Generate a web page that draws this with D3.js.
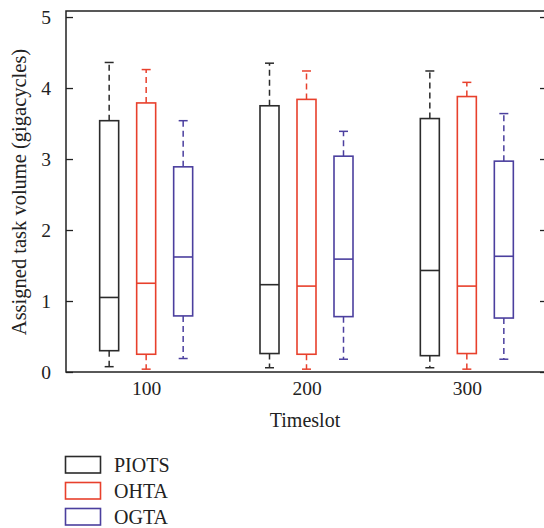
<!DOCTYPE html>
<html>
<head>
<meta charset="utf-8">
<script src="https://cdn.jsdelivr.net/npm/d3@7/dist/d3.min.js"></script>
<style>
  html, body { margin: 0; padding: 0; background: #fff; }
  svg { display: block; }
  text { font-family: "Liberation Serif", "DejaVu Serif", serif; fill: #222; }
</style>
</head>
<body>
<div id="chart"></div>
<script>
// ---- data ----
const timeslots = [100, 200, 300];
const series = ["PIOTS", "OHTA", "OGTA"];
const seriesColors = ["#2b2b2b", "#e8402c", "#4b3f9e"];
// each entry: [whiskerLow, q1, median, q3, whiskerHigh] per timeslot
const piots = [
  [0.075, 0.30, 1.05, 3.54, 4.36],
  [0.06, 0.26, 1.23, 3.75, 4.35],
  [0.06, 0.23, 1.43, 3.57, 4.24]
];
const ohta = [
  [0.04, 0.25, 1.25, 3.79, 4.26],
  [0.04, 0.25, 1.21, 3.84, 4.24],
  [0.04, 0.26, 1.21, 3.88, 4.08]
];
const ogta = [
  [0.19, 0.79, 1.62, 2.89, 3.54],
  [0.18, 0.78, 1.59, 3.04, 3.39],
  [0.18, 0.76, 1.63, 2.97, 3.64]
];
const yTicks = [0, 1, 2, 3, 4, 5];
const seriesData = [piots, ohta, ogta];

// ---- layout ----
const W = 544, H = 528;
const mLeft = 66, mRight = 547, mTop = 11, mBottom = 372;
const svg = d3.select("#chart").append("svg").attr("width", W).attr("height", H);

const x = d3.scaleLinear().domain([50, 350]).range([mLeft, mRight]);
const y = d3.scaleLinear().domain([0, 5.085]).range([mBottom, mTop]);
const offset = d3.scaleBand().domain(series).range([-55.5, 55.5]).paddingInner(0).paddingOuter(0);
const boxW = 19, capW = 9;
const FONT = "Liberation Serif, DejaVu Serif, serif";

// frame
svg.append("rect").attr("x", mLeft).attr("y", mTop).attr("width", mRight - mLeft).attr("height", mBottom - mTop)
  .attr("fill", "none").attr("stroke", "#222").attr("stroke-width", 1.5);

// y axes (left & right, inward ticks)
const yAxisL = d3.axisLeft(y).tickValues(yTicks).tickSize(-7).tickPadding(15).tickFormat(d3.format("d"));
const gL = svg.append("g").attr("transform", `translate(${mLeft},0)`).call(yAxisL);
gL.select(".domain").remove();
gL.selectAll(".tick line").attr("stroke", "#222").attr("stroke-width", 1.3);
gL.selectAll(".tick text").attr("font-size", 19.5).attr("fill", "#222").attr("font-family", FONT);

const yAxisR = d3.axisRight(y).tickValues(yTicks).tickSize(-7).tickFormat("");
const gR = svg.append("g").attr("transform", `translate(${mRight},0)`).call(yAxisR);
gR.select(".domain").remove();
gR.selectAll(".tick line").attr("stroke", "#222").attr("stroke-width", 1.3);

// x axis labels
const xAxis = d3.axisBottom(x).tickValues(timeslots).tickSize(0).tickPadding(9).tickFormat(d3.format("d"));
const gX = svg.append("g").attr("transform", `translate(0,${mBottom})`).call(xAxis);
gX.select(".domain").remove();
gX.selectAll(".tick text").attr("font-size", 19.5).attr("fill", "#222").attr("font-family", FONT);

// boxes
series.forEach((s, si) => {
  const color = seriesColors[si];
  const g = svg.append("g");
  seriesData[si].forEach((d, ti) => {
    const cx = x(timeslots[ti]) + offset(s) + offset.bandwidth() / 2;
    const [lo, q1, med, q3, hi] = d;
    // whiskers (dashed)
    g.append("line").attr("x1", cx).attr("x2", cx).attr("y1", y(q3)).attr("y2", y(hi))
      .attr("stroke", color).attr("stroke-width", 1.5).attr("stroke-dasharray", "6,4");
    g.append("line").attr("x1", cx).attr("x2", cx).attr("y1", y(q1)).attr("y2", y(lo))
      .attr("stroke", color).attr("stroke-width", 1.5).attr("stroke-dasharray", "6,4");
    // caps
    g.append("line").attr("x1", cx - capW / 2).attr("x2", cx + capW / 2).attr("y1", y(hi)).attr("y2", y(hi))
      .attr("stroke", color).attr("stroke-width", 1.5);
    g.append("line").attr("x1", cx - capW / 2).attr("x2", cx + capW / 2).attr("y1", y(lo)).attr("y2", y(lo))
      .attr("stroke", color).attr("stroke-width", 1.5);
    // box
    g.append("rect").attr("x", cx - boxW / 2).attr("y", y(q3)).attr("width", boxW).attr("height", y(q1) - y(q3))
      .attr("fill", "#fff").attr("stroke", color).attr("stroke-width", 1.6);
    // median
    g.append("line").attr("x1", cx - boxW / 2).attr("x2", cx + boxW / 2).attr("y1", y(med)).attr("y2", y(med))
      .attr("stroke", color).attr("stroke-width", 1.6);
  });
});

// axis titles
svg.append("text").attr("x", 305).attr("y", 427).attr("text-anchor", "middle")
  .attr("font-size", 20).text("Timeslot");
svg.append("text").attr("transform", "translate(26,192) rotate(-90)").attr("text-anchor", "middle")
  .attr("font-size", 20.5).text("Assigned task volume (gigacycles)");

// legend
const leg = svg.append("g");
series.forEach((s, i) => {
  const yy = 456.5 + i * 26;
  leg.append("rect").attr("x", 65.5).attr("y", yy).attr("width", 35).attr("height", 16.5)
    .attr("fill", "#fff").attr("stroke", seriesColors[i]).attr("stroke-width", 1.6);
  leg.append("text").attr("x", 114).attr("y", yy + 15).attr("font-size", 20).text(s);
});
</script>
</body>
</html>
